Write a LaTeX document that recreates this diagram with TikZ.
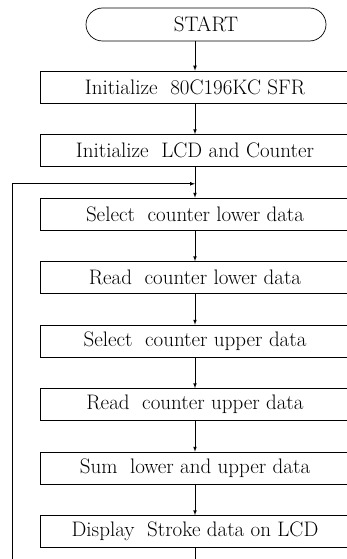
\documentclass[tikz,border=0pt]{standalone}
\begin{document}
\begin{tikzpicture}[>=latex, x=1pt, y=-1pt, line width=.7pt,
    box/.style={draw, minimum width=310pt, minimum height=32pt, inner sep=0pt, font=\fontsize{21}{24}\selectfont},
    term/.style={draw, rounded corners=16.5pt, minimum width=240pt, minimum height=33pt, inner sep=0pt, font=\fontsize{21}{24}\selectfont}]
    \clip (0,0) rectangle (347,559);
    \node[term](start) at (206,24.5) {START};
    \node[box](init) at (195,87) {Initialize\hspace{.6em}80C196KC SFR};
    \node[box](lcd) at (195,150.5) {Initialize\hspace{.6em}LCD and Counter};
    \node[box](sellow) at (195,214) {Select\hspace{.6em}counter lower data};
    \node[box](rdlow) at (195,277.5) {Read\hspace{.6em}counter lower data};
    \node[box](selup) at (195,341) {Select\hspace{.6em}counter upper data};
    \node[box](rdup) at (195,404.5) {Read\hspace{.6em}counter upper data};
    \node[box](sum) at (195,468) {Sum\hspace{.6em}lower and upper data};
    \node[box](disp) at (195,531.5) {Display\hspace{.6em}Stroke data on LCD};
    % straight flow down the chart
    \draw[->](start.south -| init.north)--(init.north);
    \draw[->](init)--(lcd);
    \draw[->](lcd)--(sellow);
    \draw[->](sellow)--(rdlow);
    \draw[->](rdlow)--(selup);
    \draw[->](selup)--(rdup);
    \draw[->](rdup)--(sum);
    \draw[->](sum)--(disp);
    % loop back above the first read step
    \path(lcd.south)--coordinate[pos=.55](join)(sellow.north);
    \draw[->](disp.south)--++(0,30)-|([xshift=-183pt]join)--(join);
\end{tikzpicture}
\end{document}
